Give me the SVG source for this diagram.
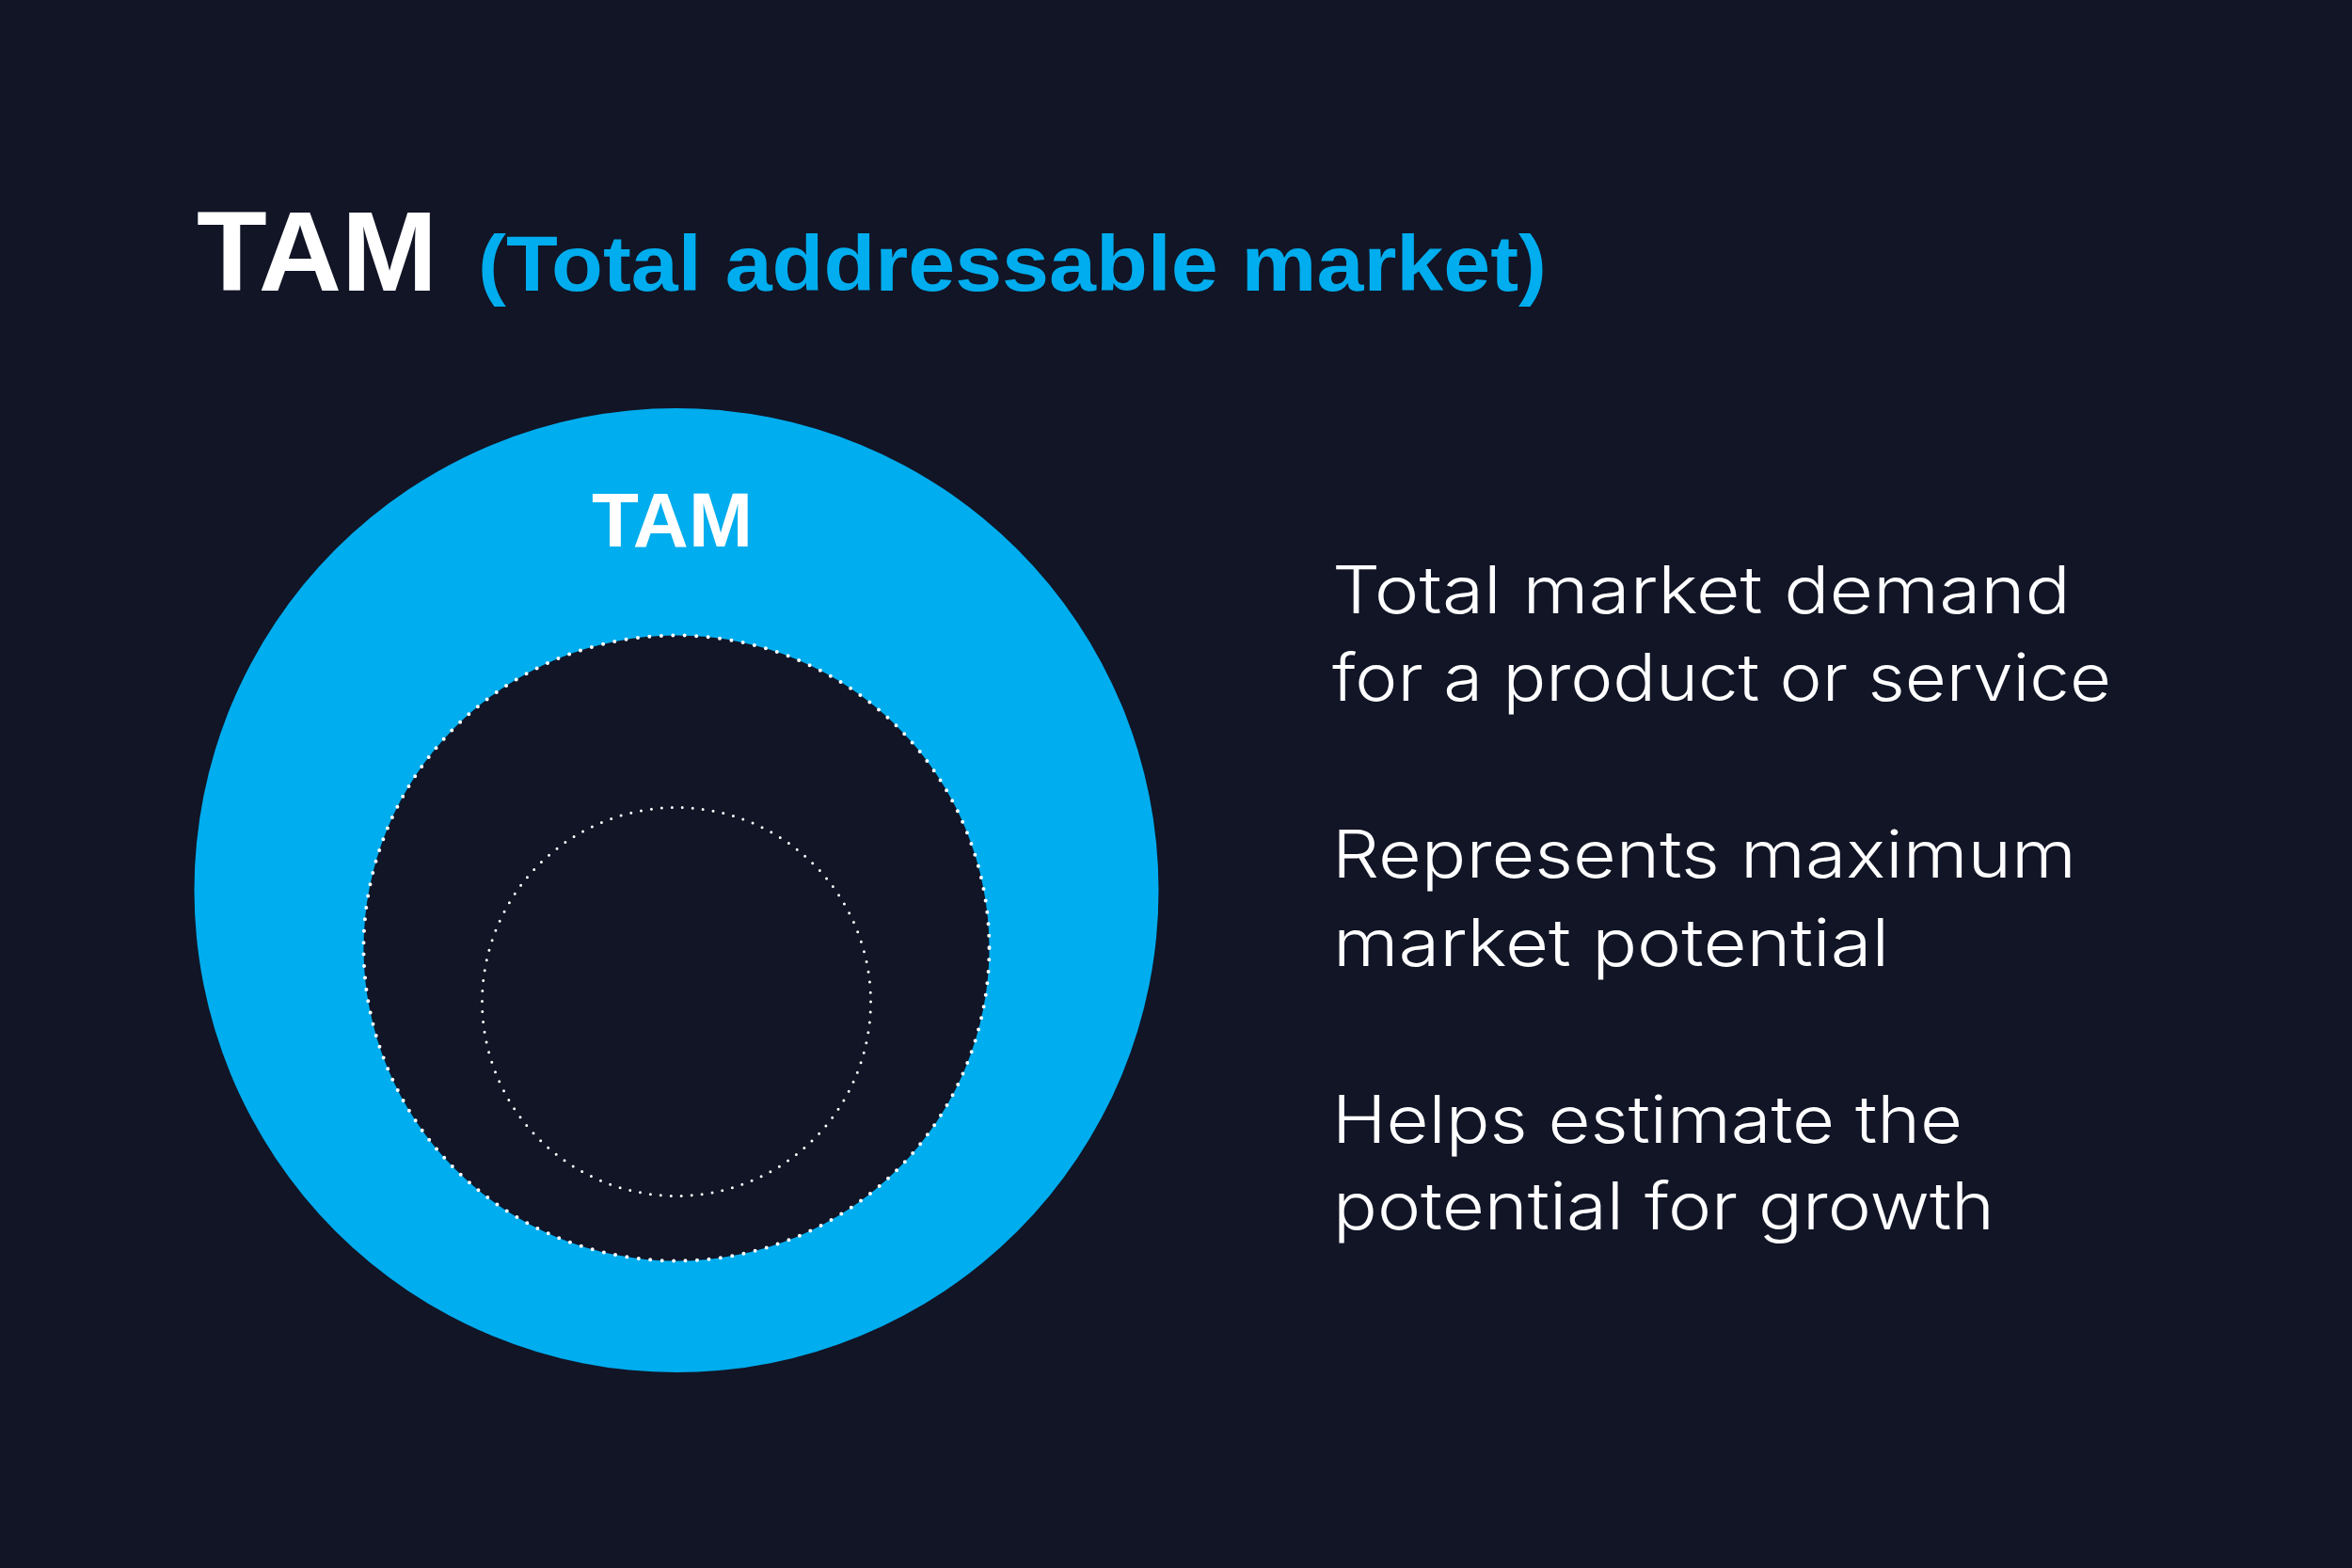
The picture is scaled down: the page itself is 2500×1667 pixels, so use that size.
<svg xmlns="http://www.w3.org/2000/svg" width="2500" height="1667" viewBox="0 0 2500 1667">
  <style>
    .bold { font-family: "Liberation Sans", Arial, sans-serif; font-weight: 700; }
    .body { font-family: Inter, Lato, "Liberation Sans", sans-serif; font-weight: 300; font-size: 70px; fill: #ffffff; }
  </style>
  <rect x="0" y="0" width="2500" height="1667" fill="#111526"/>
  <g id="title">
    <text class="bold" x="209" y="309" font-size="121" fill="#ffffff" textLength="256" lengthAdjust="spacingAndGlyphs">TAM</text>
    <text class="bold" x="508" y="309" font-size="84" fill="#00adee" textLength="1136" lengthAdjust="spacingAndGlyphs">(Total addressable market)</text>
  </g>
  <g id="tam-circle">
    <circle cx="719" cy="946.5" r="512.5" fill="#00adee"/>
    <text class="bold" x="714.5" y="581" font-size="81" fill="#ffffff" text-anchor="middle" textLength="171" lengthAdjust="spacingAndGlyphs">TAM</text>
  </g>
  <g id="sam-circle">
    <circle cx="719" cy="1008" r="332.5" fill="#111526" stroke="#ffffff" stroke-width="4" stroke-linecap="round" stroke-dasharray="0 12.5"/>
  </g>
  <g id="som-circle">
    <circle cx="719" cy="1065" r="206.5" fill="none" stroke="#ffffff" stroke-width="3" stroke-linecap="round" stroke-dasharray="0 11"/>
  </g>
  <g id="description">
    <text class="body" x="1416" y="652" textLength="785" lengthAdjust="spacingAndGlyphs">Total market demand</text>
    <text class="body" x="1416" y="745" textLength="828" lengthAdjust="spacingAndGlyphs">for a product or service</text>
    <text class="body" x="1416" y="933" textLength="791" lengthAdjust="spacingAndGlyphs">Represents maximum</text>
    <text class="body" x="1417" y="1027" textLength="591" lengthAdjust="spacingAndGlyphs">market potential</text>
    <text class="body" x="1416" y="1215" textLength="670" lengthAdjust="spacingAndGlyphs">Helps estimate the</text>
    <text class="body" x="1417" y="1307" textLength="703" lengthAdjust="spacingAndGlyphs">potential for growth</text>
  </g>
  <g id="connectors"/>
</svg>
